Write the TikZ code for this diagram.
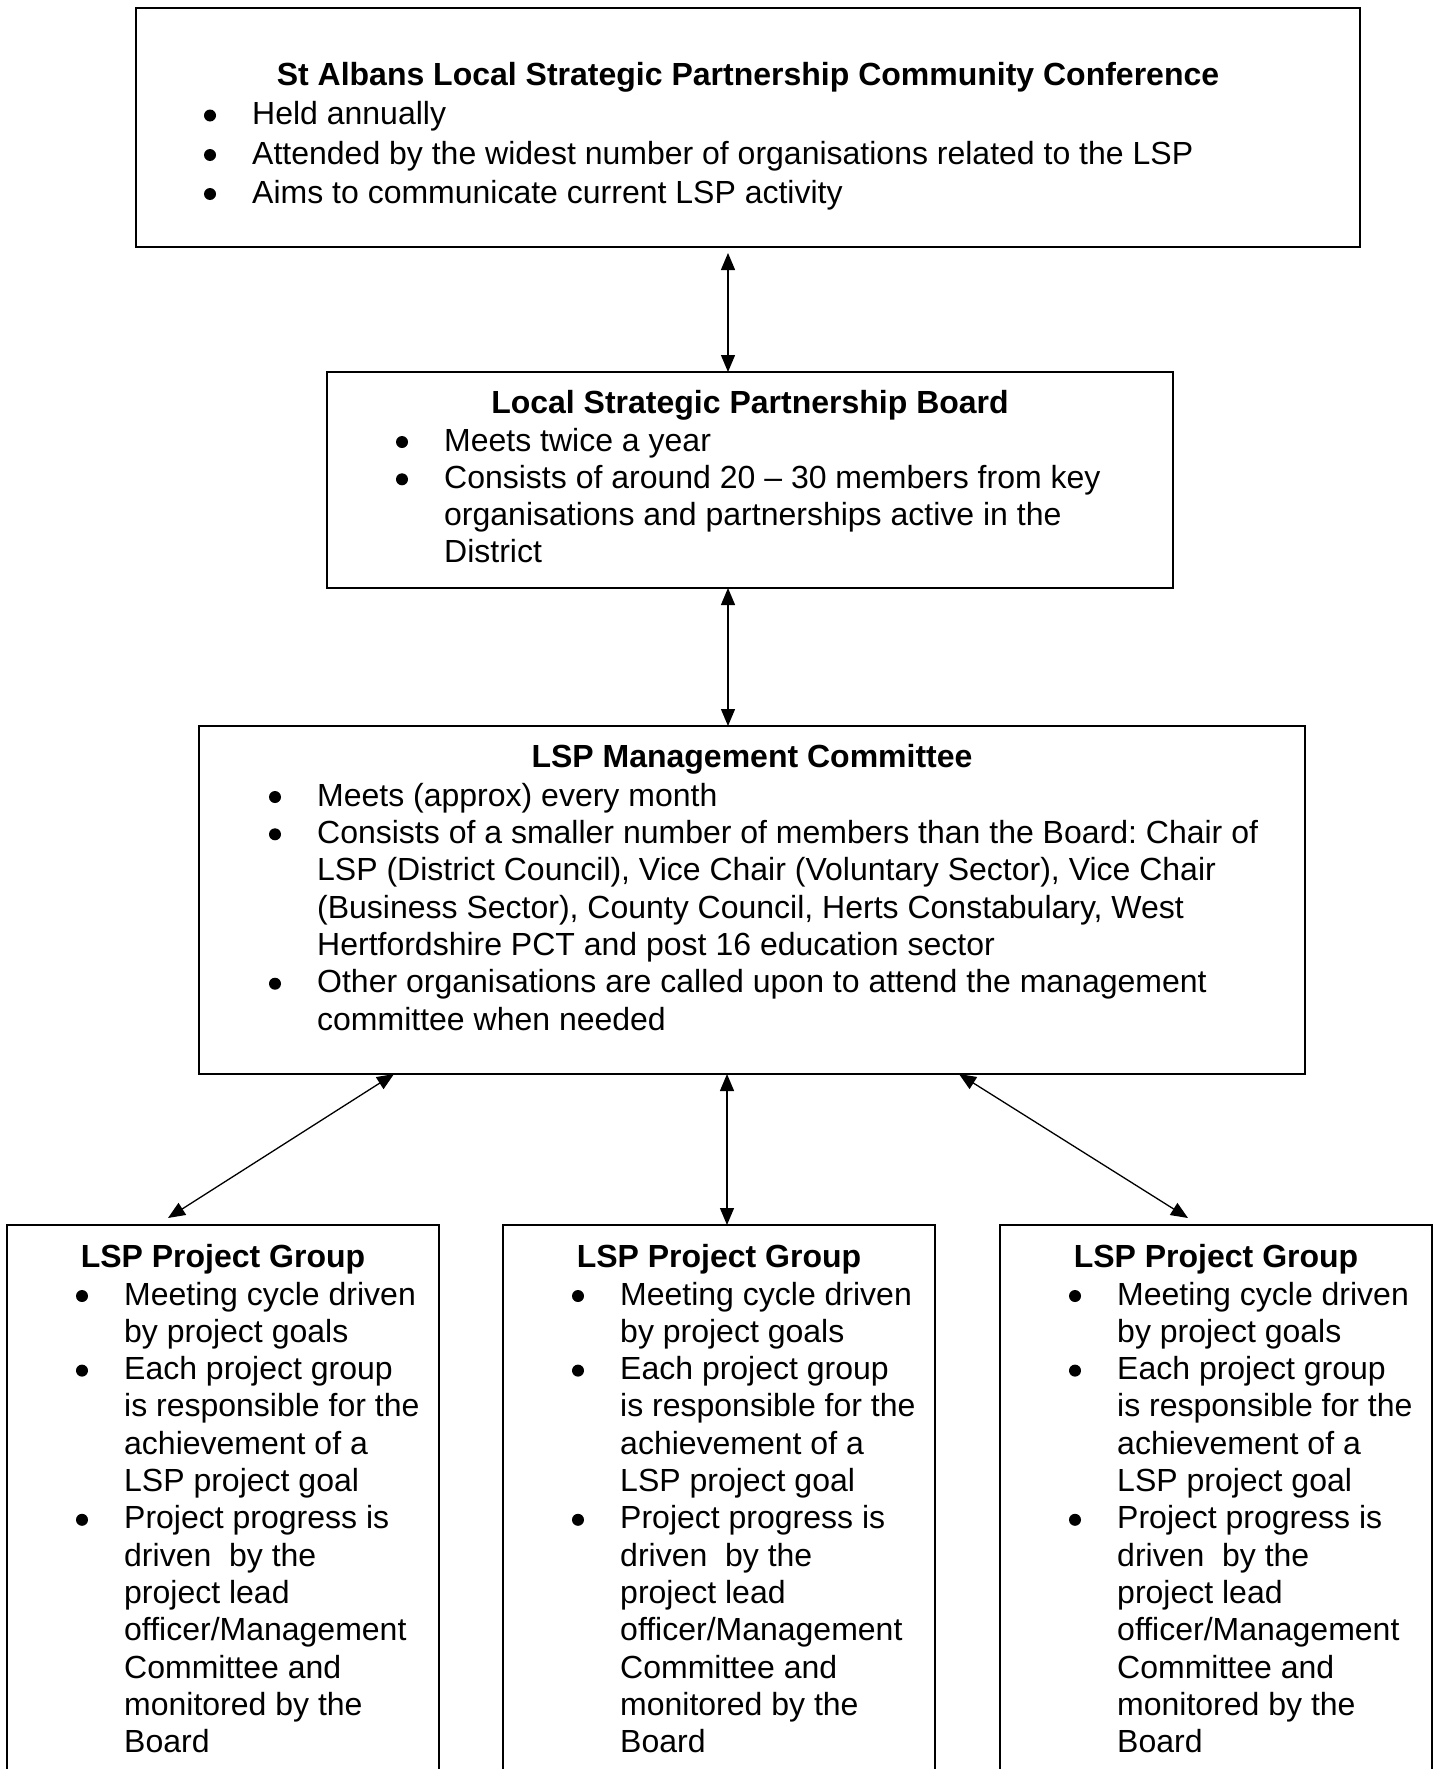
\documentclass[tikz,border=0pt]{standalone}
\usepackage{fontspec}
\setmainfont{Liberation Sans}
\usetikzlibrary{arrows.meta,calc}
\frenchspacing
\tikzset{
  box/.style={draw=black, line width=2pt, rectangle, inner sep=0pt, outer sep=0pt, anchor=north west},
  txt/.style={font=\fontsize{32}{37}\selectfont\frenchspacing, inner sep=0pt, anchor=base west},
  ttl/.style={font=\fontsize{32}{37}\selectfont\bfseries\frenchspacing, inner sep=0pt, anchor=base},
  bul/.style={append after command={\pgfextra{\fill ($(\tikzlastnode.base west)+(-42pt,9pt)$) circle[radius=6pt];}}},
  arr/.style={{Triangle[length=17pt,width=14pt]}-{Triangle[length=17pt,width=14pt]}, line width=1.3pt}
}
\newcommand\PGbox[2]{%
  \node[box, minimum width=432pt, minimum height=600pt] (#1) at (#2,1225) {};
  \node[ttl] (#1h) at ({#2+216},1267) {LSP Project Group};
  \node[txt,bul] (#1l0) at ({#2+117},1305.0) {Meeting cycle driven};
  \node[txt] (#1l1) at ({#2+117},1342.3) {by project goals};
  \node[txt,bul] (#1l2) at ({#2+117},1379.6) {Each project group};
  \node[txt] (#1l3) at ({#2+117},1416.9) {is responsible for the};
  \node[txt] (#1l4) at ({#2+117},1454.2) {achievement of a};
  \node[txt] (#1l5) at ({#2+117},1491.5) {LSP project goal};
  \node[txt,bul] (#1l6) at ({#2+117},1528.8) {Project progress is};
  \node[txt] (#1l7) at ({#2+117},1566.1) {driven\ \ by the};
  \node[txt] (#1l8) at ({#2+117},1603.4) {project lead};
  \node[txt] (#1l9) at ({#2+117},1640.7) {officer/Management};
  \node[txt] (#1l10) at ({#2+117},1678.0) {Committee and};
  \node[txt] (#1l11) at ({#2+117},1715.3) {monitored by the};
  \node[txt] (#1l12) at ({#2+117},1752.6) {Board};
}
\begin{document}
\begin{tikzpicture}[x=1pt,y=-1pt]
\useasboundingbox (0,0) rectangle (1438,1769);
\clip (0,0) rectangle (1438,1769);
\fill[white] (0,0) rectangle (1438,1769);

% Conference
\node[box, minimum width=1224pt, minimum height=239pt] (conf) at (136,8) {};
\node[ttl] (confh) at (748,85) {St Albans Local Strategic Partnership Community Conference};
\node[txt,bul] (conf1) at (252,124.5) {Held annually};
\node[txt,bul] (conf2) at (252,164) {Attended by the widest number of organisations related to the LSP};
\node[txt,bul] (conf3) at (252,203) {Aims to communicate current LSP activity};

% Board
\node[box, minimum width=846pt, minimum height=216pt] (board) at (327,372) {};
\node[ttl] (boardh) at (750,413) {Local Strategic Partnership Board};
\node[txt,bul] (board1) at (444,451) {Meets twice a year};
\node[txt,bul] (board2) at (444,488.3) {Consists of around 20 – 30 members from key};
\node[txt] (board3) at (444,525.6) {organisations and partnerships active in the};
\node[txt] (board4) at (444,562.9) {District};

% Management committee
\node[box, minimum width=1106pt, minimum height=348pt] (mgmt) at (199,726) {};
\node[ttl] (mgmth) at (752,767) {LSP Management Committee};
\node[txt,bul] (mgmt1) at (317,806) {Meets (approx) every month};
\node[txt,bul] (mgmt2) at (317,843.3) {Consists of a smaller number of members than the Board: Chair of};
\node[txt] (mgmt3) at (317,880.7) {LSP (District Council), Vice Chair (Voluntary Sector), Vice Chair};
\node[txt] (mgmt4) at (317,918) {(Business Sector), County Council, Herts Constabulary, West};
\node[txt] (mgmt5) at (317,955.3) {Hertfordshire PCT and post 16 education sector};
\node[txt,bul] (mgmt6) at (317,992.7) {Other organisations are called upon to attend the management};
\node[txt] (mgmt7) at (317,1030) {committee when needed};

% Project groups
\PGbox{pga}{7}
\PGbox{pgb}{503}
\PGbox{pgc}{1000}

% Connectors
\draw[arr] ($(conf.south west)+(592,6)$) -- ($(board.north west)+(401,0)$);
\draw[arr] ($(board.south west)+(401,0)$) -- ($(mgmt.north west)+(529,0)$);
\draw[arr] ($(mgmt.south west)+(195,0)$) -- ($(pga.north west)+(161,-7)$);
\draw[arr] ($(mgmt.south west)+(528,0)$) -- ($(pgb.north west)+(224,0)$);
\draw[arr] ($(mgmt.south west)+(760,0)$) -- ($(pgc.north west)+(188,-7)$);
\end{tikzpicture}
\end{document}
